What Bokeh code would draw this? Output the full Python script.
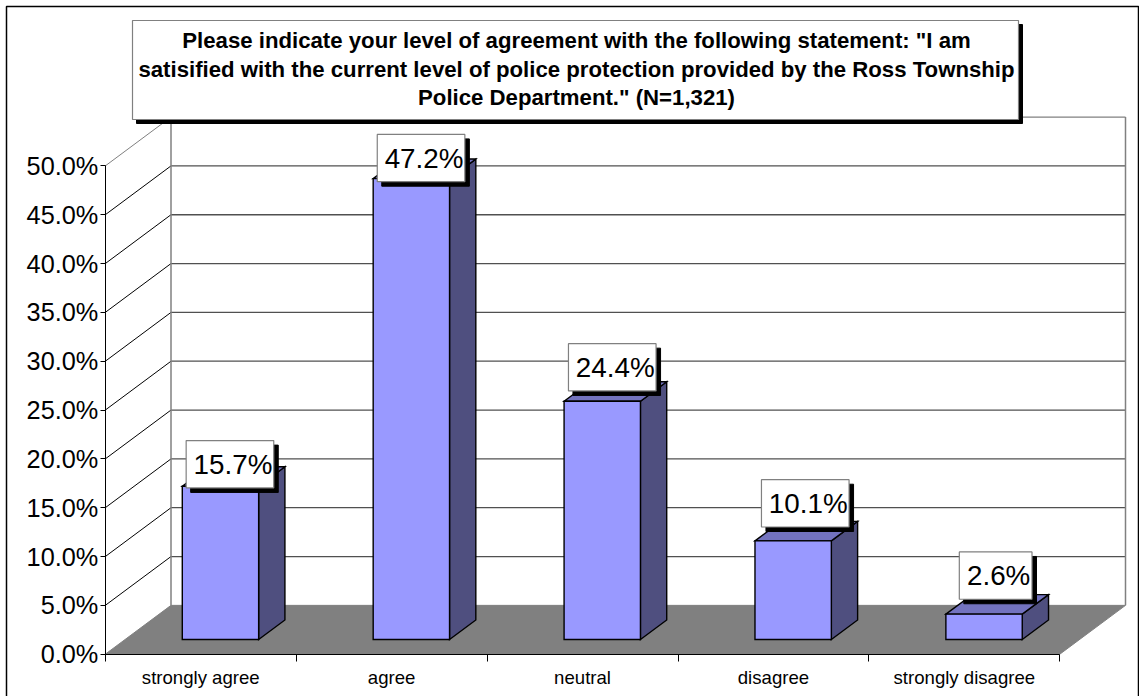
from bokeh.embed import file_html
from bokeh.models import FixedTicker, LinearAxis, Range1d
from bokeh.plotting import figure
from bokeh.resources import INLINE
from bokeh.core.properties import value as fixed

# Survey results
categories = ["strongly agree", "agree", "neutral", "disagree", "strongly disagree"]
shares = [15.7, 47.2, 24.4, 10.1, 2.6]
y_ticks = [0, 5, 10, 15, 20, 25, 30, 35, 40, 45, 50]
y_tick_labels = ["0.0%", "5.0%", "10.0%", "15.0%", "20.0%", "25.0%",
                 "30.0%", "35.0%", "40.0%", "45.0%", "50.0%"]
title_lines = [
    'Please indicate your level of agreement with the following statement: "I am',
    "satisified with the current level of police protection provided by the Ross Township",
    'Police Department." (N=1,321)',
]

# Layout in pixels
W, H = 1139, 696
LEFT, BASE = 104.8, 653.7
SLOT_PX = 190.9
PCT_PX = 9.766
DEPTH_X = 65.7 / SLOT_PX   # horizontal shift of the back wall, in slots
DEPTH_Y = 5.0              # vertical shift of the back wall, in percent
BAR_X0, BAR_X1 = 0.3, 0.7
BAR_D0, BAR_D1 = 0.3, 0.7
FONT = "Liberation Sans"

# Data-label placement relative to each bar's front face, in pixels
label_dx = [9.5, 9.7, 10.0, 12.1, 11.6]
label_lift = [-1.7, -3.1, 10.3, 13.9, 14.9]
label_w = [87.6, 87.6, 87.6, 87.6, 72.7]
LABEL_H = 47.3


def px(x):
    return (x - LEFT) / SLOT_PX


def py(y):
    return (BASE - y) / PCT_PX


def proj(x, d, v):
    """Oblique projection of slot position x, depth d (0-1) and percent v."""
    return x + d * DEPTH_X, v + d * DEPTH_Y


p = figure(
    width=W, height=H, output_backend="svg", toolbar_location=None,
    x_range=Range1d(px(0), px(W)),
    y_range=Range1d(py(H), py(0)),
    x_axis_type=None, y_axis_type=None,
    min_border=0,
    background_fill_color="white", border_fill_color="white",
    outline_line_color=None,
)
p.grid.visible = False

n = len(categories)

# Chart frame around the whole picture
p.line([px(6), px(6), px(W - 1), px(W - 1)], [py(H + 5), py(6), py(6), py(H + 5)],
       line_color="black", line_width=1.5)

# Floor
fx, fy = zip(*[proj(0, 0, 0), proj(n, 0, 0), proj(n, 1, 0), proj(0, 1, 0)])
p.patch(list(fx), list(fy), fill_color="#808080", line_color="#808080", line_width=1)

# Horizontal rules on the back wall, diagonals on the side wall
WALL = "#808080"
for t in y_ticks[1:]:
    x0, y0 = proj(0, 0, t)
    x1, y1 = proj(0, 1, t)
    x2, y2 = proj(n, 1, t)
    p.line([x0, x1], [y0, y1], line_color=WALL if t == 50 else "black", line_width=1)
    p.line([x1, x2], [y1, y2], line_color=WALL if t == 50 else "#505050", line_width=1.3)

# Wall edges
for xs in (0, n):
    x0, y0 = proj(xs, 1, 0)
    x1, y1 = proj(xs, 1, 50)
    p.line([x0, x1], [y0, y1], line_color=WALL, line_width=1.5)

# Bars
for i, v in enumerate(shares):
    a, b = i + BAR_X0, i + BAR_X1
    corners = {
        "side": [proj(b, BAR_D0, 0), proj(b, BAR_D1, 0), proj(b, BAR_D1, v), proj(b, BAR_D0, v)],
        "top": [proj(a, BAR_D0, v), proj(b, BAR_D0, v), proj(b, BAR_D1, v), proj(a, BAR_D1, v)],
        "face": [proj(a, BAR_D0, 0), proj(b, BAR_D0, 0), proj(b, BAR_D0, v), proj(a, BAR_D0, v)],
    }
    fills = {"side": "#4F4F7F", "top": "#7373BF", "face": "#9999FF"}
    for part, pts in corners.items():
        xs, ys = zip(*pts)
        p.patch(list(xs), list(ys), fill_color=fills[part], line_color="black",
                line_width=1.4, line_join="miter")


def shadow_box(left, top, right, bottom, off, border):
    """White box with a hard black drop shadow; edges in pixels."""
    p.quad(left=px(left + off), right=px(right + off), top=py(top + off), bottom=py(bottom + off),
           fill_color="black", line_color="black", line_width=1)
    p.quad(left=px(left), right=px(right), top=py(top), bottom=py(bottom),
           fill_color="white", line_color=border, line_width=1.2)


# Value labels
for i, v in enumerate(shares):
    fx0, fy0 = proj(i + BAR_X0, BAR_D0, v)
    fx1, _ = proj(i + BAR_X1, BAR_D0, v)
    face_left = LEFT + fx0 * SLOT_PX
    face_right = LEFT + fx1 * SLOT_PX
    face_top = BASE - fy0 * PCT_PX
    cx = (face_left + face_right) / 2 + label_dx[i]
    bottom = face_top - label_lift[i]
    top = bottom - LABEL_H
    left, right = cx - label_w[i] / 2, cx + label_w[i] / 2
    shadow_box(left, top, right, bottom, 4.5, "#808080")
    p.text([px(cx + 3)], [py((top + bottom) / 2)], text=[f"{v:.1f}%"],
           text_font=fixed(FONT), text_font_size="27.8px", text_color="black",
           text_align="center", text_baseline="middle")

# Title box
shadow_box(132, 20, 1018, 119, 4, "#808080")
for line, y in zip(title_lines, [40, 69, 97]):
    p.text([px(576)], [py(y)], text=[line], text_font=fixed(FONT),
           text_font_size="22.2px", text_font_style="bold", text_color="black",
           text_align="center", text_baseline="middle")

# Value axis, pinned to the left edge of the floor
y_axis = LinearAxis(
    fixed_location=0,
    ticker=FixedTicker(ticks=y_ticks),
    major_label_overrides={t: s for t, s in zip(y_ticks, y_tick_labels)},
    bounds=(0, 50),
    axis_line_color="black", axis_line_width=1,
    major_tick_line_color="black", major_tick_in=0, major_tick_out=5,
    minor_tick_line_color=None,
    major_label_text_font=FONT, major_label_text_font_size="25.3px",
    major_label_text_color="black", major_label_standoff=2,
)
p.add_layout(y_axis, "left")

# Category axis: names at slot centres, tick marks at slot boundaries
centers = [i + 0.5 for i in range(n)]
x_axis = LinearAxis(
    fixed_location=0,
    ticker=FixedTicker(ticks=centers, minor_ticks=list(range(n + 1))),
    major_label_overrides={c: s for c, s in zip(centers, categories)},
    bounds=(0, n),
    axis_line_color="black", axis_line_width=1.2,
    major_tick_line_color=None, major_tick_in=0, major_tick_out=0,
    minor_tick_line_color="black", minor_tick_in=0, minor_tick_out=7,
    major_label_text_font=FONT, major_label_text_font_size="18.6px",
    major_label_text_color="black", major_label_standoff=6,
)
p.add_layout(x_axis, "below")

open("out.html", "w").write(file_html(p, INLINE))
